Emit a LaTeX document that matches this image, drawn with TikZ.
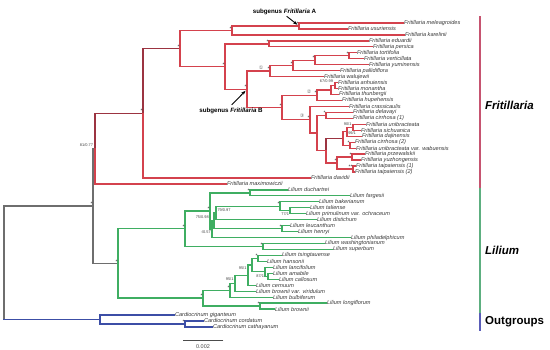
\documentclass[tikz,border=0pt]{standalone}
\usepackage{fontspec}
\setmainfont{Liberation Sans}
\setsansfont{Liberation Sans}
\newfontfamily\circfont{DejaVu Sans}
\usepackage{tikz}
\usetikzlibrary{arrows.meta, positioning}
\definecolor{frred}{HTML}{D4424D}
\definecolor{frdark}{HTML}{9C3441}
\definecolor{lilgreen}{HTML}{3FAE62}
\definecolor{ogblue}{HTML}{3C4EA6}
\definecolor{bbgray}{HTML}{6E6E6E}
\definecolor{frbar}{HTML}{C65470}
\definecolor{lilbar}{HTML}{5DAF80}
\definecolor{ogbar}{HTML}{5A5DB8}
\newcommand{\br}[3][fr]{\draw[#1] (#2) |- (#3);}

\begin{document}
\begin{tikzpicture}[
  x=1pt, y=-1pt,
  font=\sffamily,
  >=Stealth,
  line cap=rect, line join=miter,
  fr/.style={draw=frred, line width=1.35pt},
  frd/.style={draw=frdark, line width=1.35pt},
  lil/.style={draw=lilgreen, line width=1.35pt},
  og/.style={draw=ogblue, line width=1.35pt},
  bb/.style={draw=bbgray, line width=1.35pt},
  tip/.style={anchor=west, inner sep=0.8pt, font=\fontsize{5.6}{6}\selectfont\itshape, text=black!78},
  bs/.style={font=\fontsize{5}{5}\selectfont, inner sep=0.2pt, text=black!85},
  bsv/.style={font=\fontsize{3.9}{4}\selectfont, inner sep=0.3pt, text=black!75},
  circ/.style={font=\fontsize{5}{5}\selectfont\circfont, inner sep=0pt, text=black!60},
  sub/.style={font=\fontsize{6.2}{7}\selectfont\bfseries, inner sep=0.5pt},
  subarr/.style={-{Stealth[length=4.5pt,width=3.2pt]}, line width=0.9pt, shorten >=2pt},
  clade/.style={font=\fontsize{11.5}{12}\selectfont\bfseries, anchor=west, inner sep=0pt},
  bar/.style={line width=1.7pt},
]
\useasboundingbox (0,0) rectangle (550,350);

% tips: Fritillaria
\node[tip] (tMel) at (403,23.0)  {Fritillaria meleagroides};
\node[tip] (tUsu) at (347,29.0)  {Fritillaria usuriensis};
\node[tip] (tKar) at (404,34.9)  {Fritillaria karelinii};
\node[tip] (tEdu) at (368,40.9)  {Fritillaria eduardii};
\node[tip] (tPer) at (372,46.8)  {Fritillaria persica};
\node[tip] (tTor) at (356,52.8)  {Fritillaria tortifolia};
\node[tip] (tVer) at (363,58.8)  {Fritillaria verticillata};
\node[tip] (tYum) at (368,64.7)  {Fritillaria yuminensis};
\node[tip] (tPal) at (339,70.7)  {Fritillaria pallidiflora};
\node[tip] (tWal) at (323,76.6)  {Fritillaria walujewii};
\node[tip] (tAnh) at (337,82.6)  {Fritillaria anhuiensis};
\node[tip] (tMon) at (337,88.6)  {Fritillaria monantha};
\node[tip] (tThu) at (338,94.5)  {Fritillaria thunbergii};
\node[tip] (tHup) at (341,100.5) {Fritillaria hupehensis};
\node[tip] (tCra) at (348,106.4) {Fritillaria crassicaulis};
\node[tip] (tDel) at (352,112.4) {Fritillaria delavayi};
\node[tip] (tCi1) at (352,118.4) {Fritillaria cirrhosa (1)};
\node[tip] (tUni) at (365,124.3) {Fritillaria unibracteata};
\node[tip] (tSic) at (360,130.3) {Fritillaria sichuanica};
\node[tip] (tDaj) at (361,136.2) {Fritillaria dajinensis};
\node[tip] (tCi2) at (354,142.2) {Fritillaria cirrhosa (2)};
\node[tip] (tWab) at (355,148.2) {Fritillaria unibracteata var. wabuensis};
\node[tip] (tPrz) at (364,154.1) {Fritillaria przewalskii};
\node[tip] (tYuz) at (360,160.1) {Fritillaria yuzhongensis};
\node[tip] (tTa1) at (355,166.0) {Fritillaria taipaiensis (1)};
\node[tip] (tTa2) at (354,172.0) {Fritillaria taipaiensis (2)};
\node[tip] (tDav) at (310,178.0) {Fritillaria davidii};
\node[tip] (tMax) at (226,183.9) {Fritillaria maximowiczii};

% tips: Lilium
\node[tip] (tDuc) at (287,189.9) {Lilium duchartrei};
\node[tip] (tFar) at (349,195.8) {Lilium fargesii};
\node[tip] (tBak) at (318,201.8) {Lilium bakerianum};
\node[tip] (tTal) at (309,207.8) {Lilium taliense};
\node[tip] (tPri) at (305,213.7) {Lilium primulinum var. ochraceum};
\node[tip] (tDis) at (316,219.7) {Lilium distichum};
\node[tip] (tLeu) at (289,225.6) {Lilium leucanthum};
\node[tip] (tHen) at (297,231.6) {Lilium henryi};
\node[tip] (tPhi) at (350,237.6) {Lilium philadelphicum};
\node[tip] (tWas) at (324,243.5) {Lilium washingtonianum};
\node[tip] (tSup) at (332,249.5) {Lilium superbum};
\node[tip] (tTsi) at (281,255.4) {Lilium tsingtauense};
\node[tip] (tHan) at (266,261.4) {Lilium hansonii};
\node[tip] (tLan) at (272,267.4) {Lilium lancifolium};
\node[tip] (tAma) at (272,273.3) {Lilium amabile};
\node[tip] (tCal) at (278,279.3) {Lilium callosum};
\node[tip] (tCer) at (255,285.2) {Lilium cernuum};
\node[tip] (tVir) at (255,291.2) {Lilium brownii var. viridulum};
\node[tip] (tBul) at (272,297.2) {Lilium bulbiferum};
\node[tip] (tLon) at (326,303.1) {Lilium longiflorum};
\node[tip] (tBro) at (274,309.1) {Lilium brownii};

% tips: outgroups
\node[tip] (tGig) at (174,315.0) {Cardiocrinum giganteum};
\node[tip] (tCor) at (203,321.0) {Cardiocrinum cordatum};
\node[tip] (tCat) at (212,327.0) {Cardiocrinum cathayanum};

% internal nodes
\coordinate (R)   at (4,262.8);
\coordinate (LF)  at (93,206.0);
\coordinate (O1)  at (100,319.5);
\coordinate (OC)  at (185,324.0);

\coordinate (F0)  at (95,148.6);
\coordinate (F1)  at (143,113.2);
\coordinate (F2)  at (180,48.5);
\coordinate (A)   at (232,30.5);
\coordinate (AA)  at (299,26.0);
\coordinate (F3)  at (225,66.6);
\coordinate (ED)  at (269,43.9);
\coordinate (B)   at (247,89.3);
\coordinate (C1)  at (270,71.1);
\coordinate (C1a) at (293,65.5);
\coordinate (C1b) at (315,60.3);
\coordinate (TV)  at (349,55.8);
\coordinate (C23) at (282,107.5);
\coordinate (C2)  at (317,95.3);
\coordinate (C2a) at (331,90.1);
\coordinate (AM)  at (335,85.6);
\coordinate (C3)  at (310,119.8);
\coordinate (C3a) at (317,133.1);
\coordinate (DC)  at (326,115.4);
\coordinate (C3b) at (326,150.8);
\coordinate (X)   at (343,138.5);
\coordinate (X1)  at (347,131.8);
\coordinate (US)  at (353,127.3);
\coordinate (X2)  at (350,145.2);
\coordinate (Y)   at (337,163.1);
\coordinate (PY)  at (352,157.1);
\coordinate (TT)  at (353,169.0);

\coordinate (LC)  at (118,263.5);
\coordinate (U1)  at (185,228.8);
\coordinate (U2)  at (210,211.0);
\coordinate (DF)  at (250,192.9);
\coordinate (U3)  at (212,229.2);
\coordinate (U4)  at (214,220.8);
\coordinate (U5)  at (216,213.0);
\coordinate (BTP) at (280,206.3);
\coordinate (TP)  at (290,210.8);
\coordinate (LH)  at (282,228.6);
\coordinate (WS)  at (263,246.5);
\coordinate (L1)  at (203,298.1);
\coordinate (L2)  at (230,290.2);
\coordinate (L3)  at (235,283.2);
\coordinate (L4)  at (248,275.2);
\coordinate (L5)  at (252,265.1);
\coordinate (TH)  at (258,258.4);
\coordinate (L6)  at (265,271.8);
\coordinate (AC)  at (268,276.3);
\coordinate (LB)  at (260,306.1);

% backbone
\draw[bb] (R) |- (LF);
\draw[bb] (R) -- (R |- O1);
\draw[og] (R |- O1) -- (O1);
\draw[bb] (LF) |- (F0);
\draw[bb] (LF) |- (LC);

% outgroups
\br[og]{O1}{tGig} \br[og]{O1}{OC}
\br[og]{OC}{tCor} \br[og]{OC}{tCat}

% Fritillaria
\br[frd]{F0}{F1} \br{F0}{tMax}
\br[frd]{F1}{F2} \br{F1}{tDav}
\br{F2}{A} \br{F2}{F3}
\br{A}{AA} \br{A}{tKar}
\br{AA}{tMel} \br{AA}{tUsu}
\br{F3}{ED} \br{F3}{B}
\br{ED}{tEdu} \br{ED}{tPer}
\br{B}{C1} \br{B}{C23}
\br{C1}{C1a} \br{C1}{tWal}
\br{C1a}{C1b} \br{C1a}{tPal}
\br{C1b}{TV} \br{C1b}{tYum}
\br{TV}{tTor} \br{TV}{tVer}
\br{C23}{C2} \br{C23}{C3}
\br{C2}{C2a} \br{C2}{tHup}
\br{C2a}{AM} \br{C2a}{tThu}
\br{AM}{tAnh} \br{AM}{tMon}
\br{C3}{tCra} \br{C3}{C3a}
\br{C3a}{DC} \br{C3a}{C3b}
\br{DC}{tDel} \br{DC}{tCi1}
\br[frd]{C3b}{X} \br{C3b}{Y}
\br{X}{X1} \br{X}{X2}
\br{X1}{US} \br{X1}{tDaj}
\br{US}{tUni} \br{US}{tSic}
\br{X2}{tCi2} \br{X2}{tWab}
\br{Y}{PY} \br{Y}{TT}
\br{PY}{tPrz} \br{PY}{tYuz}
\br{TT}{tTa1} \br{TT}{tTa2}

% Lilium
\br[lil]{LC}{U1} \br[lil]{LC}{L1}
\br[lil]{U1}{U2} \br[lil]{U1}{WS}
\br[lil]{U2}{DF} \br[lil]{U2}{U3}
\br[lil]{DF}{tDuc} \br[lil]{DF}{tFar}
\br[lil]{U3}{U4} \br[lil]{U3}{tPhi}
\br[lil]{U4}{U5} \br[lil]{U4}{LH}
\br[lil]{U5}{BTP} \br[lil]{U5}{tDis}
\br[lil]{BTP}{tBak} \br[lil]{BTP}{TP}
\br[lil]{TP}{tTal} \br[lil]{TP}{tPri}
\br[lil]{LH}{tLeu} \br[lil]{LH}{tHen}
\br[lil]{WS}{tWas} \br[lil]{WS}{tSup}
\br[lil]{L1}{L2} \br[lil]{L1}{LB}
\br[lil]{L2}{L3} \br[lil]{L2}{tBul}
\br[lil]{L3}{L4} \br[lil]{L3}{tVir}
\br[lil]{L4}{L5} \br[lil]{L4}{tCer}
\br[lil]{L5}{TH} \br[lil]{L5}{L6}
\br[lil]{TH}{tTsi} \br[lil]{TH}{tHan}
\br[lil]{L6}{tLan} \br[lil]{L6}{AC}
\br[lil]{AC}{tAma} \br[lil]{AC}{tCal}
\br[lil]{LB}{tLon} \br[lil]{LB}{tBro}

% support: stars
\node[bs, above left=0pt and 0pt of AA]  (sAA)  {*};
\node[bs, above left=0pt and 0pt of A]   (sA)   {*};
\node[bs, above left=0pt and 0pt of F2]  (sF2)  {*};
\node[bs, above left=0pt and 0pt of F1]  (sF1)  {*};
\node[bs, above left=0pt and 0pt of ED]  (sED)  {*};
\node[bs, above left=0pt and 0pt of F3]  (sF3)  {*};
\node[bs, above left=0pt and 0pt of B]   (sB)   {*};
\node[bs, above left=0pt and 0pt of C1]  (sC1)  {*};
\node[bs, above left=0pt and 0pt of C1a] (sC1a) {*};
\node[bs, above left=0pt and 0pt of C1b] (sC1b) {*};
\node[bs, above left=0pt and 0pt of TV]  (sTV)  {*};
\node[bs, above left=0pt and 0pt of C23] (sC23) {*};
\node[bs, above left=0pt and 0pt of C2]  (sC2)  {*};
\node[bs, above left=0pt and 0pt of C3]  (sC3)  {*};
\node[bs, above left=0pt and 0pt of DC]  (sDC)  {*};
\node[bs, above left=0pt and 0pt of X2]  (sX2)  {*};
\node[bs, above left=0pt and 0pt of Y]   (sY)   {*};
\node[bs, above left=0pt and 0pt of PY]  (sPY)  {*};
\node[bs, above left=0pt and 0pt of TT]  (sTT)  {**};
\node[bs, above left=0pt and 0pt of LF]  (sLF)  {*};
\node[bs, above left=0pt and 0pt of LC]  (sLC)  {*};
\node[bs, above left=0pt and 0pt of U1]  (sU1)  {*};
\node[bs, above left=0pt and 0pt of U2]  (sU2)  {*};
\node[bs, above left=0pt and 0pt of DF]  (sDF)  {*};
\node[bs, above left=0pt and 0pt of BTP] (sBTP) {*};
\node[bs, above left=0pt and 0pt of LH]  (sLH)  {*};
\node[bs, above left=0pt and 0pt of WS]  (sWS)  {*};
\node[bs, above left=0pt and 0pt of TH]  (sTH)  {*};
\node[bs, above left=0pt and 0pt of L1]  (sL1)  {*};
\node[bs, above left=0pt and 0pt of L2]  (sL2)  {*};
\node[bs, above left=0pt and 0pt of LB]  (sLB)  {*};
\node[bs, above left=0pt and 0pt of OC]  (sOC)  {*};

% support: values
\node[bsv, anchor=east] (vF0) at (93.5,145.5) {81/0.77};
\node[bsv, anchor=east] (vAM) at (333.5,81.5) {67/0.99};
\node[bsv, anchor=east] (vUS) at (352,124.5) {90/1};
\node[bsv, anchor=west] (vX1) at (347.8,133.4) {99/1};
\node[bsv, anchor=west] (vU5) at (217,210.2) {79/0.97};
\node[bsv, anchor=east] (vU4) at (209.3,217) {75/0.98};
\node[bsv, anchor=east] (vU3) at (211.3,232.5) {-/0.57};
\node[bsv, anchor=north east] (vTP) at (289.5,211.8) {77/1};
\node[bsv, anchor=east] (vL4) at (247,268) {95/1};
\node[bsv, anchor=east] (vL3) at (234,279) {95/1};
\node[bsv, anchor=east] (vAC) at (264.5,276) {87/1};

% clade numbers
\node[circ] (n1) at (261,67.5) {①};
\node[circ] (n2) at (309,92)   {②};
\node[circ] (n3) at (302,115.5) {③};

% subgenus labels
\node[sub] (subA) at (284.5,12) {subgenus \textit{Fritillaria} A};
\node[sub] (subB) at (231,110.5) {subgenus \textit{Fritillaria} B};
\coordinate (aT) at (287,16.5);
\coordinate (bT) at (232,104.5);
\draw[subarr] (aT) -- (AA);
\draw[subarr] (bT) -- (B);

% scale bar
\coordinate (sb1) at (183,340);
\coordinate (sb2) at (223,340);
\draw[black!70, line width=0.6pt] (sb1) -- (sb2);
\node[font=\fontsize{5.5}{6}\selectfont, text=black!70, inner sep=0pt] (sbl) at (203,346.5) {0.002};

% clade bars
\draw[bar, draw=frbar]  (480,17) -- (480,187.5);
\draw[bar, draw=lilbar] (480,189) -- (480,312);
\draw[bar, draw=ogbar]  (480,313.5) -- (480,330);
\node[clade] (kF) at (485,105) {\textit{Fritillaria}};
\node[clade] (kL) at (485,250) {\textit{Lilium}};
\node[clade] (kO) at (485,321.7) {Outgroups};
\end{tikzpicture}
\end{document}
